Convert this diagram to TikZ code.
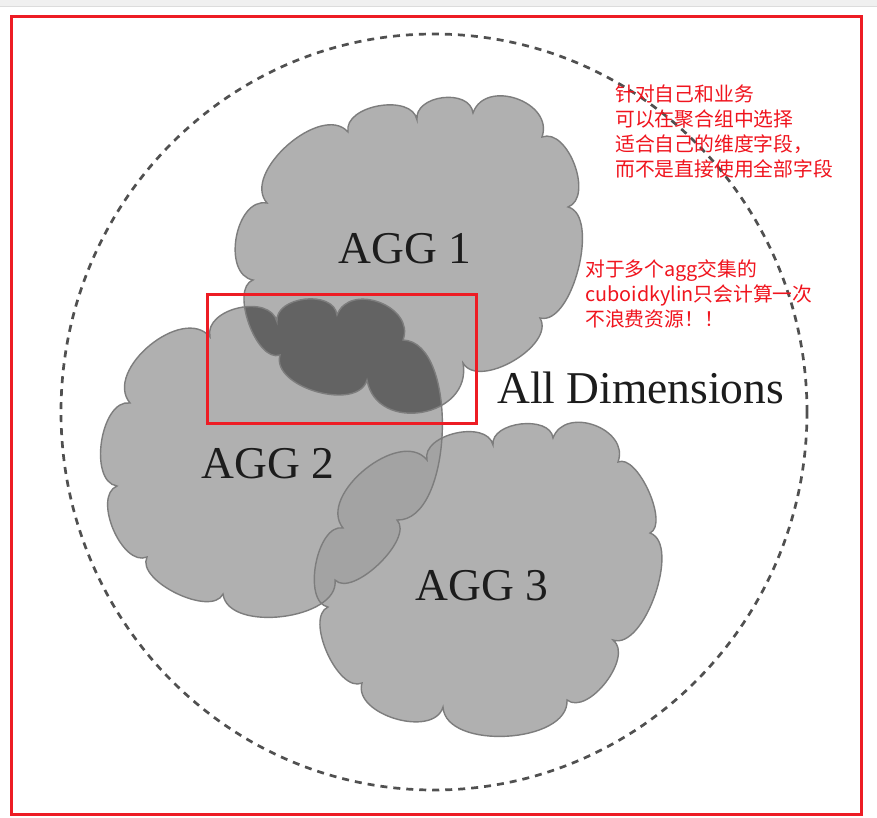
\documentclass[tikz,border=0pt]{standalone}
\usepackage{fontspec}
\setmainfont{Liberation Serif}
\newfontfamily\cjk{Noto Sans CJK SC}
\definecolor{framered}{RGB}{237,28,36}
\definecolor{notered}{RGB}{240,20,30}
\definecolor{cloudfill}{RGB}{176,176,176}
\definecolor{overlapdark}{RGB}{99,99,99}
\definecolor{overlapmid}{RGB}{163,163,163}
\definecolor{cloudline}{RGB}{125,125,125}
\definecolor{dashgray}{RGB}{80,80,80}
\definecolor{labelblack}{RGB}{28,28,28}
\definecolor{topband}{RGB}{240,240,240}
\definecolor{topline}{RGB}{220,220,220}
\begin{document}
\begin{tikzpicture}[x=1pt,y=-1pt,
  lobe/.style={bend left=90,looseness=#1}, lobe/.default=1,
  cloudedge/.style={draw=cloudline,line width=1.4pt},
  dashring/.style={draw=dashgray,line width=2.7pt,dash pattern=on 7pt off 6pt},
  agglabel/.style={font=\fontsize{45.5}{50}\selectfont,text=labelblack,inner sep=0pt,anchor=base},
  note/.style={font=\cjk\fontsize{19.8}{25}\selectfont,text=notered,inner sep=0pt,anchor=base west},
  redbox/.style={draw=framered,line width=3pt,inner sep=0pt}]
\useasboundingbox (0,0) rectangle (877,817);
\fill[white] (0,0) rectangle (877,817);
\fill[topband] (0,0) rectangle (877,6);
\draw[topline,line width=1pt] (0,6) -- (877,6);
\draw[framered,line width=3pt] (11,16) rectangle (861,814);

\def\aggone{(267,203) to[lobe=0.95] (348,132) to[lobe=1] (417,120) to[lobe=1.15] (473,113) to[lobe=1.3] (542,137) to[lobe=0.95] (568,207) to[lobe=0.75] (540,318) to[lobe=0.9] (463,363) to[lobe=1.45] (367,380) to[lobe=0.95] (280,355) to[lobe=0.8] (253,280) to[lobe=1.05] (267,203) -- cycle}
\def\aggtwo{(130,403) to[lobe=1.05] (210,337) to[lobe=1.1] (277,322) to[lobe=1.1] (337,315) to[lobe=1.3] (403,340) to[lobe=0.8] (397,520) to[lobe=0.75] (335,580) to[lobe=0.9] (223,594) to[lobe=0.8] (147,557) to[lobe=0.9] (117,486) to[lobe=0.9] (130,403) -- cycle}
\def\aggthree{(343,528) to[lobe=1] (427,460) to[lobe=1] (493,445) to[lobe=1] (553,438) to[lobe=1.3] (618,462) to[lobe=0.7] (650,533) to[lobe=0.75] (613,640) to[lobe=0.9] (567,700) to[lobe=0.9] (443,707) to[lobe=1] (362,683) to[lobe=0.8] (328,607) to[lobe=0.85] (343,528) -- cycle}

% outer dashed boundary
\draw[dashring] (434,412) ellipse [x radius=373pt, y radius=378pt];

% clouds
\fill[cloudfill] \aggone;
\fill[cloudfill] \aggtwo;
\fill[cloudfill] \aggthree;
\begin{scope}
  \clip \aggone;
  \fill[overlapdark] \aggtwo;
\end{scope}
\begin{scope}
  \clip \aggtwo;
  \fill[overlapmid] \aggthree;
\end{scope}
\draw[cloudedge] \aggone;
\draw[cloudedge] \aggtwo;
\draw[cloudedge] \aggthree;

% labels
\node[agglabel] (agg1) at (405,263) {AGG 1};
\node[agglabel] (agg2) at (268,478) {AGG 2};
\node[agglabel] (agg3) at (482,600) {AGG 3};
\node[agglabel,anchor=base west] (alldim) at (497,403) {All Dimensions};

% highlight box
\node[redbox,minimum width=269pt,minimum height=129pt] (hl) at (341.5,358.5) {};

% notes
\node[note] (n1a) at (615,101) {针对自己和业务};
\node[note] (n1b) at (615,126) {可以在聚合组中选择};
\node[note] (n1c) at (615,151) {适合自己的维度字段，};
\node[note] (n1d) at (615,176) {而不是直接使用全部字段};
\node[note] (n2a) at (585,276) {对于多个agg交集的};
\node[note] (n2b) at (585,301) {cuboidkylin只会计算一次};
\node[note] (n2c) at (585,326) {不浪费资源！！};
\end{tikzpicture}
\end{document}
